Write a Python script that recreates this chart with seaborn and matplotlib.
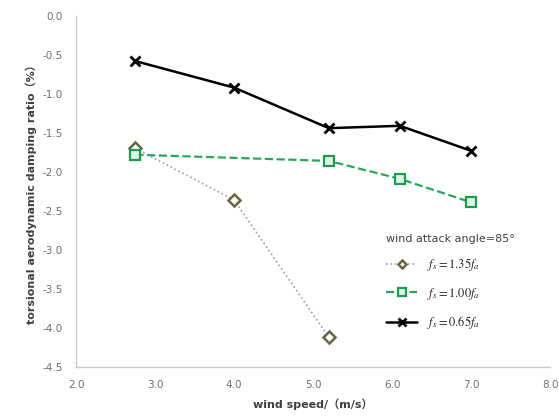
import numpy as np
import pandas as pd
import matplotlib
matplotlib.use("Agg")
import matplotlib.pyplot as plt
import seaborn as sns

# wind speed (m/s) and torsional aerodynamic damping ratio (%)
speed_135 = [2.75, 4.0, 5.2]
damp_135 = [-1.70, -2.36, -4.12]

speed_100 = [2.75, 5.2, 6.1, 7.0]
damp_100 = [-1.78, -1.86, -2.09, -2.39]

speed_065 = [2.75, 4.0, 5.2, 6.1, 7.0]
damp_065 = [-0.58, -0.92, -1.44, -1.41, -1.73]

labels = [r"$f_s=1.35f_a$", r"$f_s=1.00f_a$", r"$f_s=0.65f_a$"]
x_ticks = [2.0, 3.0, 4.0, 5.0, 6.0, 7.0, 8.0]
y_ticks = [0.0, -0.5, -1.0, -1.5, -2.0, -2.5, -3.0, -3.5, -4.0, -4.5]

sns.set_theme(style="white")
plt.rcParams['font.family'] = ['DejaVu Sans', 'Noto Sans CJK SC']
plt.rcParams['mathtext.fontset'] = 'stix'

fig = plt.figure(figsize=(5.59, 4.16), dpi=100)
ax = fig.add_axes([0.136, 0.118, 0.848, 0.844])

sns.lineplot(x=speed_135, y=damp_135, ax=ax, color="#a0a0a0", linestyle=":",
             linewidth=1.2, marker="D", markersize=6, markerfacecolor="white",
             markeredgecolor="#6b6440", markeredgewidth=1.8, label=labels[0])
sns.lineplot(x=speed_100, y=damp_100, ax=ax, color="#2aa75a", linestyle="--",
             linewidth=1.6, marker="s", markersize=7.5, markerfacecolor="#dff5e6",
             markeredgecolor="#1f9a4e", markeredgewidth=1.6, label=labels[1])
sns.lineplot(x=speed_065, y=damp_065, ax=ax, color="black", linestyle="-",
             linewidth=1.8, marker="x", markersize=7.5, markeredgewidth=2,
             markeredgecolor="black", label=labels[2])

ax.set_xlim(2.0, 8.0)
ax.set_ylim(-4.5, 0.0)
ax.set_xticks(x_ticks)
ax.set_yticks(y_ticks)
ax.set_xticklabels([f"{v:.1f}" for v in x_ticks], fontsize=7.5, color="#707070")
ax.set_yticklabels([f"{v:.1f}" for v in y_ticks], fontsize=7.5, color="#707070")
ax.tick_params(axis="both", length=3, width=0.6, color="#c8c8c8", direction="inout", pad=8)

for side in ["top", "right"]:
    ax.spines[side].set_visible(False)
for side in ["left", "bottom"]:
    ax.spines[side].set_color("#c8c8c8")
    ax.spines[side].set_linewidth(1.0)

ax.set_xlabel("wind speed/（m/s）", fontsize=8, fontweight="bold", color="#404040", labelpad=6)
ax.set_ylabel("torsional aerodynamic damping ratio（%）", fontsize=8, fontweight="bold",
              color="#404040", labelpad=4)

leg = ax.legend(title="wind attack angle=85°", loc="lower left", bbox_to_anchor=(0.63, 0.07),
                frameon=False, fontsize=9, title_fontsize=8, handlelength=2.5,
                labelspacing=1.0, alignment="left", markerscale=0.75)
leg.get_title().set_color("#404040")

fig.savefig("out.png", dpi=100)
